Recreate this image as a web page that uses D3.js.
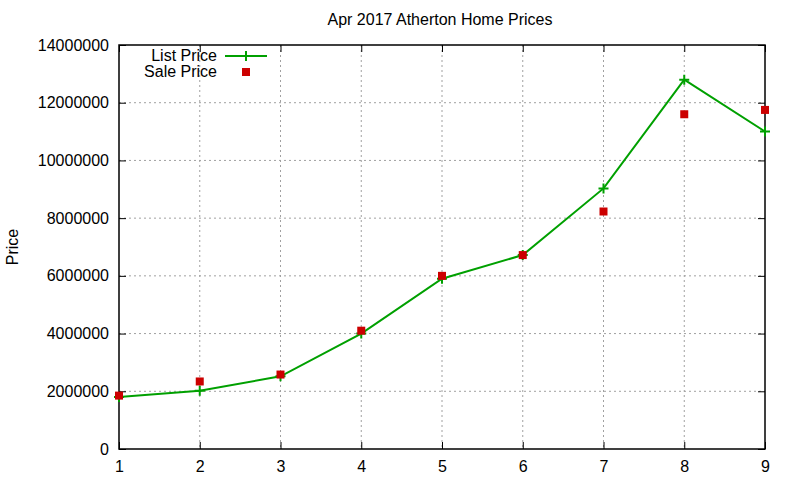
<!DOCTYPE html>
<html>
<head>
<meta charset="utf-8">
<script src="https://cdn.jsdelivr.net/npm/d3@7"></script>
<style>
  body { margin: 0; background: #fff; }
  text { font-family: "Liberation Sans", Arial, sans-serif; fill: #000; }
</style>
</head>
<body>
<svg id="chart" width="800" height="480"></svg>
<script>
// Data
const months = [1, 2, 3, 4, 5, 6, 7, 8, 9];
const listPrice = [1800000, 2020000, 2520000, 4000000, 5900000, 6720000, 9030000, 12800000, 11000000];
const salePrice = [1850000, 2340000, 2580000, 4100000, 6000000, 6720000, 8230000, 11600000, 11750000];
const yTicks = [0, 2000000, 4000000, 6000000, 8000000, 10000000, 12000000, 14000000];

const margin = { top: 45, right: 35, bottom: 31, left: 119 };
const width = 800 - margin.left - margin.right;
const height = 480 - margin.top - margin.bottom;

const svg = d3.select('#chart');

const x = d3.scaleLinear().domain([1, 9]).range([0, width]);
const y = d3.scaleLinear().domain([0, 14000000]).range([height, 0]);

const g = svg.append('g')
  .attr('transform', `translate(${margin.left},${margin.top})`);

// grid
g.append('g')
  .selectAll('line')
  .data(yTicks.slice(1, -1))
  .enter().append('line')
    .attr('x1', 0).attr('x2', width)
    .attr('y1', d => y(d)).attr('y2', d => y(d))
    .attr('stroke', '#a0a0a0')
    .attr('stroke-dasharray', '2,3');

g.append('g')
  .selectAll('line')
  .data(months.slice(1, -1))
  .enter().append('line')
    .attr('x1', d => x(d)).attr('x2', d => x(d))
    .attr('y1', 0).attr('y2', height)
    .attr('stroke', '#a0a0a0')
    .attr('stroke-dasharray', '2,3');

// axes (gnuplot style, inward ticks mirrored)
const fmt = d3.format('d');
const yAxis = g.append('g')
  .call(d3.axisLeft(y).tickValues(yTicks).tickFormat(fmt).tickSizeInner(-7).tickSizeOuter(0).tickPadding(10));
const xAxis = g.append('g')
  .attr('transform', `translate(0,${height})`)
  .call(d3.axisBottom(x).tickValues(months).tickFormat(fmt).tickSizeInner(-7).tickSizeOuter(0).tickPadding(12));
const yAxisR = g.append('g')
  .attr('transform', `translate(${width},0)`)
  .call(d3.axisRight(y).tickValues(yTicks).tickFormat('').tickSizeInner(-7).tickSizeOuter(0));
const xAxisT = g.append('g')
  .call(d3.axisTop(x).tickValues(months).tickFormat('').tickSizeInner(-7).tickSizeOuter(0));

[yAxis, xAxis, yAxisR, xAxisT].forEach(a => {
  a.select('.domain').remove();
  a.selectAll('line').attr('stroke', '#000');
  a.selectAll('text').style('font-size', '16px').attr('font-family', '"Liberation Sans", Arial, sans-serif');
});

g.append('rect')
  .attr('width', width).attr('height', height)
  .attr('fill', 'none')
  .attr('stroke', '#000')
  .attr('stroke-width', 1.5);

// List price line
const line = d3.line()
  .x((d, i) => x(months[i]))
  .y(d => y(d));

g.append('path')
  .datum(listPrice)
  .attr('fill', 'none')
  .attr('stroke', '#00a000')
  .attr('stroke-width', 2)
  .attr('d', line);

const plus = d3.symbol().type(d3.symbolCross);
g.append('g')
  .selectAll('path')
  .data(listPrice)
  .enter().append('path')
    .attr('transform', (d, i) => `translate(${x(months[i])},${y(d)})`)
    .attr('d', 'M-5,0H5M0,-5V5')
    .attr('stroke', '#00a000')
    .attr('stroke-width', 2);

// Sale price points
g.append('g')
  .selectAll('rect')
  .data(salePrice)
  .enter().append('rect')
    .attr('x', (d, i) => x(months[i]) - 4)
    .attr('y', d => y(d) - 4)
    .attr('width', 8)
    .attr('height', 8)
    .attr('fill', '#cc0000');

// title
svg.append('text')
  .attr('x', 440)
  .attr('y', 25)
  .attr('text-anchor', 'middle')
  .style('font-size', '16px')
  .text('Apr 2017 Atherton Home Prices');

// y label
svg.append('text')
  .attr('transform', 'translate(18,247) rotate(-90)')
  .attr('text-anchor', 'middle')
  .style('font-size', '16px')
  .text('Price');

// legend
const legend = svg.append('g');
legend.append('text')
  .attr('x', 217).attr('y', 61)
  .attr('text-anchor', 'end')
  .style('font-size', '16px')
  .text('List Price');
legend.append('line')
  .attr('x1', 225).attr('x2', 267)
  .attr('y1', 56).attr('y2', 56)
  .attr('stroke', '#00a000')
  .attr('stroke-width', 2);
legend.append('path')
  .attr('transform', 'translate(246,56)')
  .attr('d', 'M-5,0H5M0,-5V5')
  .attr('stroke', '#00a000')
  .attr('stroke-width', 2);
legend.append('text')
  .attr('x', 217).attr('y', 77)
  .attr('text-anchor', 'end')
  .style('font-size', '16px')
  .text('Sale Price');
legend.append('rect')
  .attr('x', 242).attr('y', 68)
  .attr('width', 8).attr('height', 8)
  .attr('fill', '#cc0000');
</script>
</body>
</html>
